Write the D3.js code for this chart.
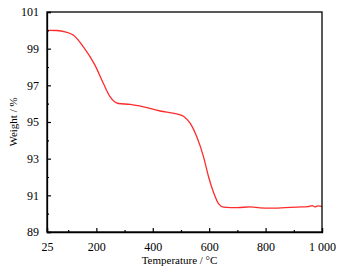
<!DOCTYPE html>
<html>
<head>
<meta charset="utf-8">
<script src="https://cdn.jsdelivr.net/npm/d3@7"></script>
<style>
  html, body { margin: 0; padding: 0; background: #fff; }
  svg { display: block; font-family: "Liberation Serif", "Times New Roman", serif; }
</style>
</head>
<body>
<div id="chart"></div>
<script>
// TG curve: weight (%) vs temperature (°C)
const temperature = [25, 60, 89, 118, 154, 195, 225, 249, 278, 320, 367, 426, 485, 510, 533, 556, 580, 598, 615, 633, 651, 700, 746, 780, 817, 870, 912, 950, 965, 975, 985, 1000];
const weight      = [100.0, 99.99, 99.92, 99.74, 99.1, 98.1, 97.1, 96.37, 96.01, 95.96, 95.83, 95.6, 95.44, 95.3, 94.92, 94.19, 93.1, 92.0, 91.18, 90.55, 90.36, 90.33, 90.37, 90.32, 90.3, 90.33, 90.36, 90.38, 90.44, 90.37, 90.42, 90.4];

const xTicks = [25, 200, 400, 600, 800, 1000];
const xMinor = [100, 300, 500, 700, 900];
const yTicks = [89, 91, 93, 95, 97, 99, 101];
const yMinor = [90, 92, 94, 96, 98, 100];

const W = 344, H = 274;
const margin = { top: 12, right: 22, bottom: 42, left: 47 };
const iw = W - margin.left - margin.right;
const ih = H - margin.top - margin.bottom;
const serif = '"Liberation Serif", "Times New Roman", serif';

const svg = d3.select("#chart").append("svg").attr("width", W).attr("height", H);
const g = svg.append("g").attr("transform", `translate(${margin.left},${margin.top})`);

const x = d3.scaleLinear().domain([25, 1000]).range([0, iw]);
const y = d3.scaleLinear().domain([89, 101]).range([ih, 0]);

const fmtX = (d) => d === 1000 ? "1 000" : String(d);

// curve
const line = d3.line().x((d, i) => x(temperature[i])).y((d) => y(d)).curve(d3.curveMonotoneX);
g.append("path").datum(weight)
  .attr("fill", "none").attr("stroke", "#ff2b2b").attr("stroke-width", 1.3)
  .attr("d", line);

// axes (ticks pointing inward)
g.append("g").attr("transform", `translate(0,${ih})`)
  .call(d3.axisBottom(x).tickValues(xTicks).tickSize(-4).tickPadding(10).tickFormat(fmtX));
g.append("g").attr("transform", `translate(0,${ih})`)
  .call(d3.axisBottom(x).tickValues(xMinor).tickSize(-2).tickFormat(""))
  .select(".domain").remove();
g.append("g")
  .call(d3.axisLeft(y).tickValues(yTicks).tickSize(-4).tickPadding(8));
g.append("g")
  .call(d3.axisLeft(y).tickValues(yMinor).tickSize(-2).tickFormat(""))
  .select(".domain").remove();

g.selectAll("g").attr("font-family", serif);
g.selectAll(".tick line").attr("stroke", "#000").attr("stroke-width", 1.2);
g.selectAll(".domain").attr("stroke", "#000").attr("stroke-width", 1.3);
g.selectAll(".tick text").attr("fill", "#000").attr("font-size", "12px");

// frame
g.append("rect").attr("width", iw).attr("height", ih)
  .attr("fill", "none").attr("stroke", "#000").attr("stroke-width", 1.3);

// titles
svg.append("text").attr("x", margin.left + iw / 2 - 5).attr("y", 264)
  .attr("text-anchor", "middle").style("font-size", "11px").text("Temperature / °C");
svg.append("text").attr("transform", `translate(17,${margin.top + ih / 2}) rotate(-90)`)
  .attr("text-anchor", "middle").style("font-size", "11px").text("Weight / %");
</script>
</body>
</html>
